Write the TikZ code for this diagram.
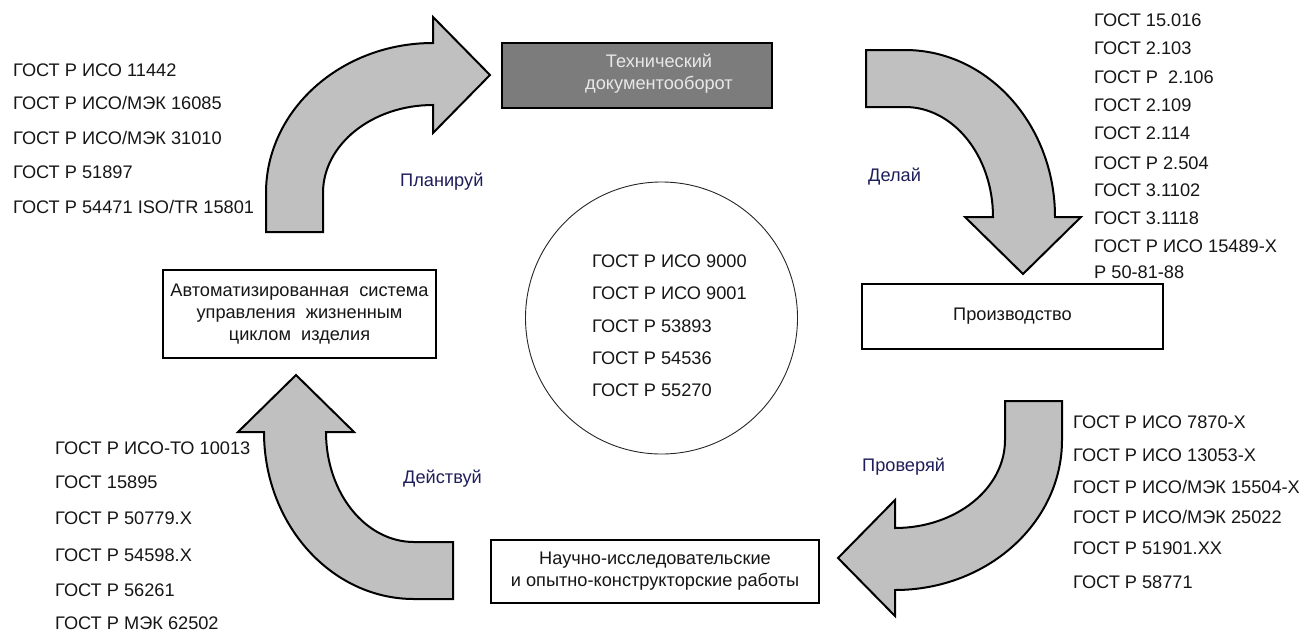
\documentclass[tikz,border=0pt]{standalone}
\usepackage{fontspec}
\setmainfont{Liberation Sans}
\definecolor{arrowgray}{HTML}{C0C0C0}
\definecolor{techfill}{HTML}{7C7C7C}
\definecolor{techtext}{HTML}{E8E8E8}
\definecolor{gosttext}{HTML}{161616}
\definecolor{phasetext}{HTML}{1E1E5A}
\begin{document}
\begin{tikzpicture}[x=1pt,y=-1pt,
  every node/.style={font=\fontsize{18.2}{22}\selectfont, inner sep=0pt},
  gost/.style={anchor=base west, text=gosttext},
  phase/.style={anchor=base west, text=phasetext},
  arrowbody/.style={draw=black, line width=2pt, fill=arrowgray, line join=miter},
  stagebox/.style={draw=black, line width=1.3pt, fill=white, align=center, text=gosttext},
  bentarrow/.pic={
    \draw[arrowbody] (-167,39) -- (-167,0)
      .. controls (-167,-82.8) and (-92.2,-150) .. (0,-150)
      -- (0,-176) -- (57,-118) -- (0,-60) -- (0,-88)
      .. controls (-60.75,-88) and (-110,-48.6) .. (-110,0)
      -- (-110,39) -- cycle;
  }
]
\useasboundingbox (0,0) rectangle (1304,633);

% four bent arrows of the cycle
\pic (plan)  at (433,193) {bentarrow};
\pic (do)    [rotate=-90] at (905,217) {bentarrow};
\pic (check) [rotate=180] at (895,440) {bentarrow};
\pic (act)   [rotate=90]  at (414,432) {bentarrow};

% stages
\node[draw=black, line width=1.3pt, fill=techfill, minimum width=270pt,
      minimum height=65pt] (tech) at (637,75.5) {};
\node[text=techtext, align=center] (techlbl) at (659,74)
  {Технический\\документооборот};
\node[stagebox, minimum width=301pt, minimum height=65pt] (prod) at (1012.5,316.5)
  {Производство};
\node[stagebox, minimum width=328pt, minimum height=63pt] (rnd) at (655,571.5)
  {Научно-исследовательские\\и опытно-конструкторские работы};
\node[stagebox, minimum width=273pt, minimum height=88pt] (plm) at (299.5,314)
  {Автоматизированная\ \ система\\управления\ \ жизненным\\циклом\ \ изделия};

% central circle
\node[circle, draw=black!85, line width=0.9pt, minimum size=272pt] (core) at (661.5,318) {};

% phase labels
\node[phase] (lplan)  at (400,186) {Планируй};
\node[phase] (ldo)    at (868,181) {Делай};
\node[phase] (lcheck) at (862,471) {Проверяй};
\node[phase] (lact)   at (403,483) {Действуй};

% standard lists
\foreach \yy/\t [count=\i] in {76/{ГОСТ Р ИСО 11442}, 109/{ГОСТ Р ИСО/МЭК 16085},
    144/{ГОСТ Р ИСО/МЭК 31010}, 178/{ГОСТ Р 51897}, 213/{ГОСТ Р 54471 ISO/TR 15801}}
  \node[gost] (tl\i) at (13,\yy) {\t};

\foreach \yy/\t [count=\i] in {26/{ГОСТ 15.016}, 54/{ГОСТ 2.103}, 83/{ГОСТ Р\ \ 2.106},
    111/{ГОСТ 2.109}, 139/{ГОСТ 2.114}, 169/{ГОСТ Р 2.504}, 196/{ГОСТ 3.1102},
    224/{ГОСТ 3.1118}, 252/{ГОСТ Р ИСО 15489-Х}, 278/{Р 50-81-88}}
  \node[gost] (tr\i) at (1094,\yy) {\t};

\foreach \yy/\t [count=\i] in {267/{ГОСТ Р ИСО 9000}, 299/{ГОСТ Р ИСО 9001},
    332/{ГОСТ Р 53893}, 364/{ГОСТ Р 54536}, 396/{ГОСТ Р 55270}}
  \node[gost] (c\i) at (592,\yy) {\t};

\foreach \yy/\t [count=\i] in {428/{ГОСТ Р ИСО 7870-Х}, 461/{ГОСТ Р ИСО 13053-Х},
    493/{ГОСТ Р ИСО/МЭК 15504-Х}, 523/{ГОСТ Р ИСО/МЭК 25022}, 554/{ГОСТ Р 51901.ХХ},
    588/{ГОСТ Р 58771}}
  \node[gost] (br\i) at (1073,\yy) {\t};

\foreach \yy/\t [count=\i] in {454/{ГОСТ Р ИСО-ТО 10013}, 488/{ГОСТ 15895},
    524/{ГОСТ Р 50779.Х}, 561/{ГОСТ Р 54598.Х}, 596/{ГОСТ Р 56261}, 629/{ГОСТ Р МЭК 62502}}
  \node[gost] (bl\i) at (55,\yy) {\t};
\end{tikzpicture}
\end{document}
